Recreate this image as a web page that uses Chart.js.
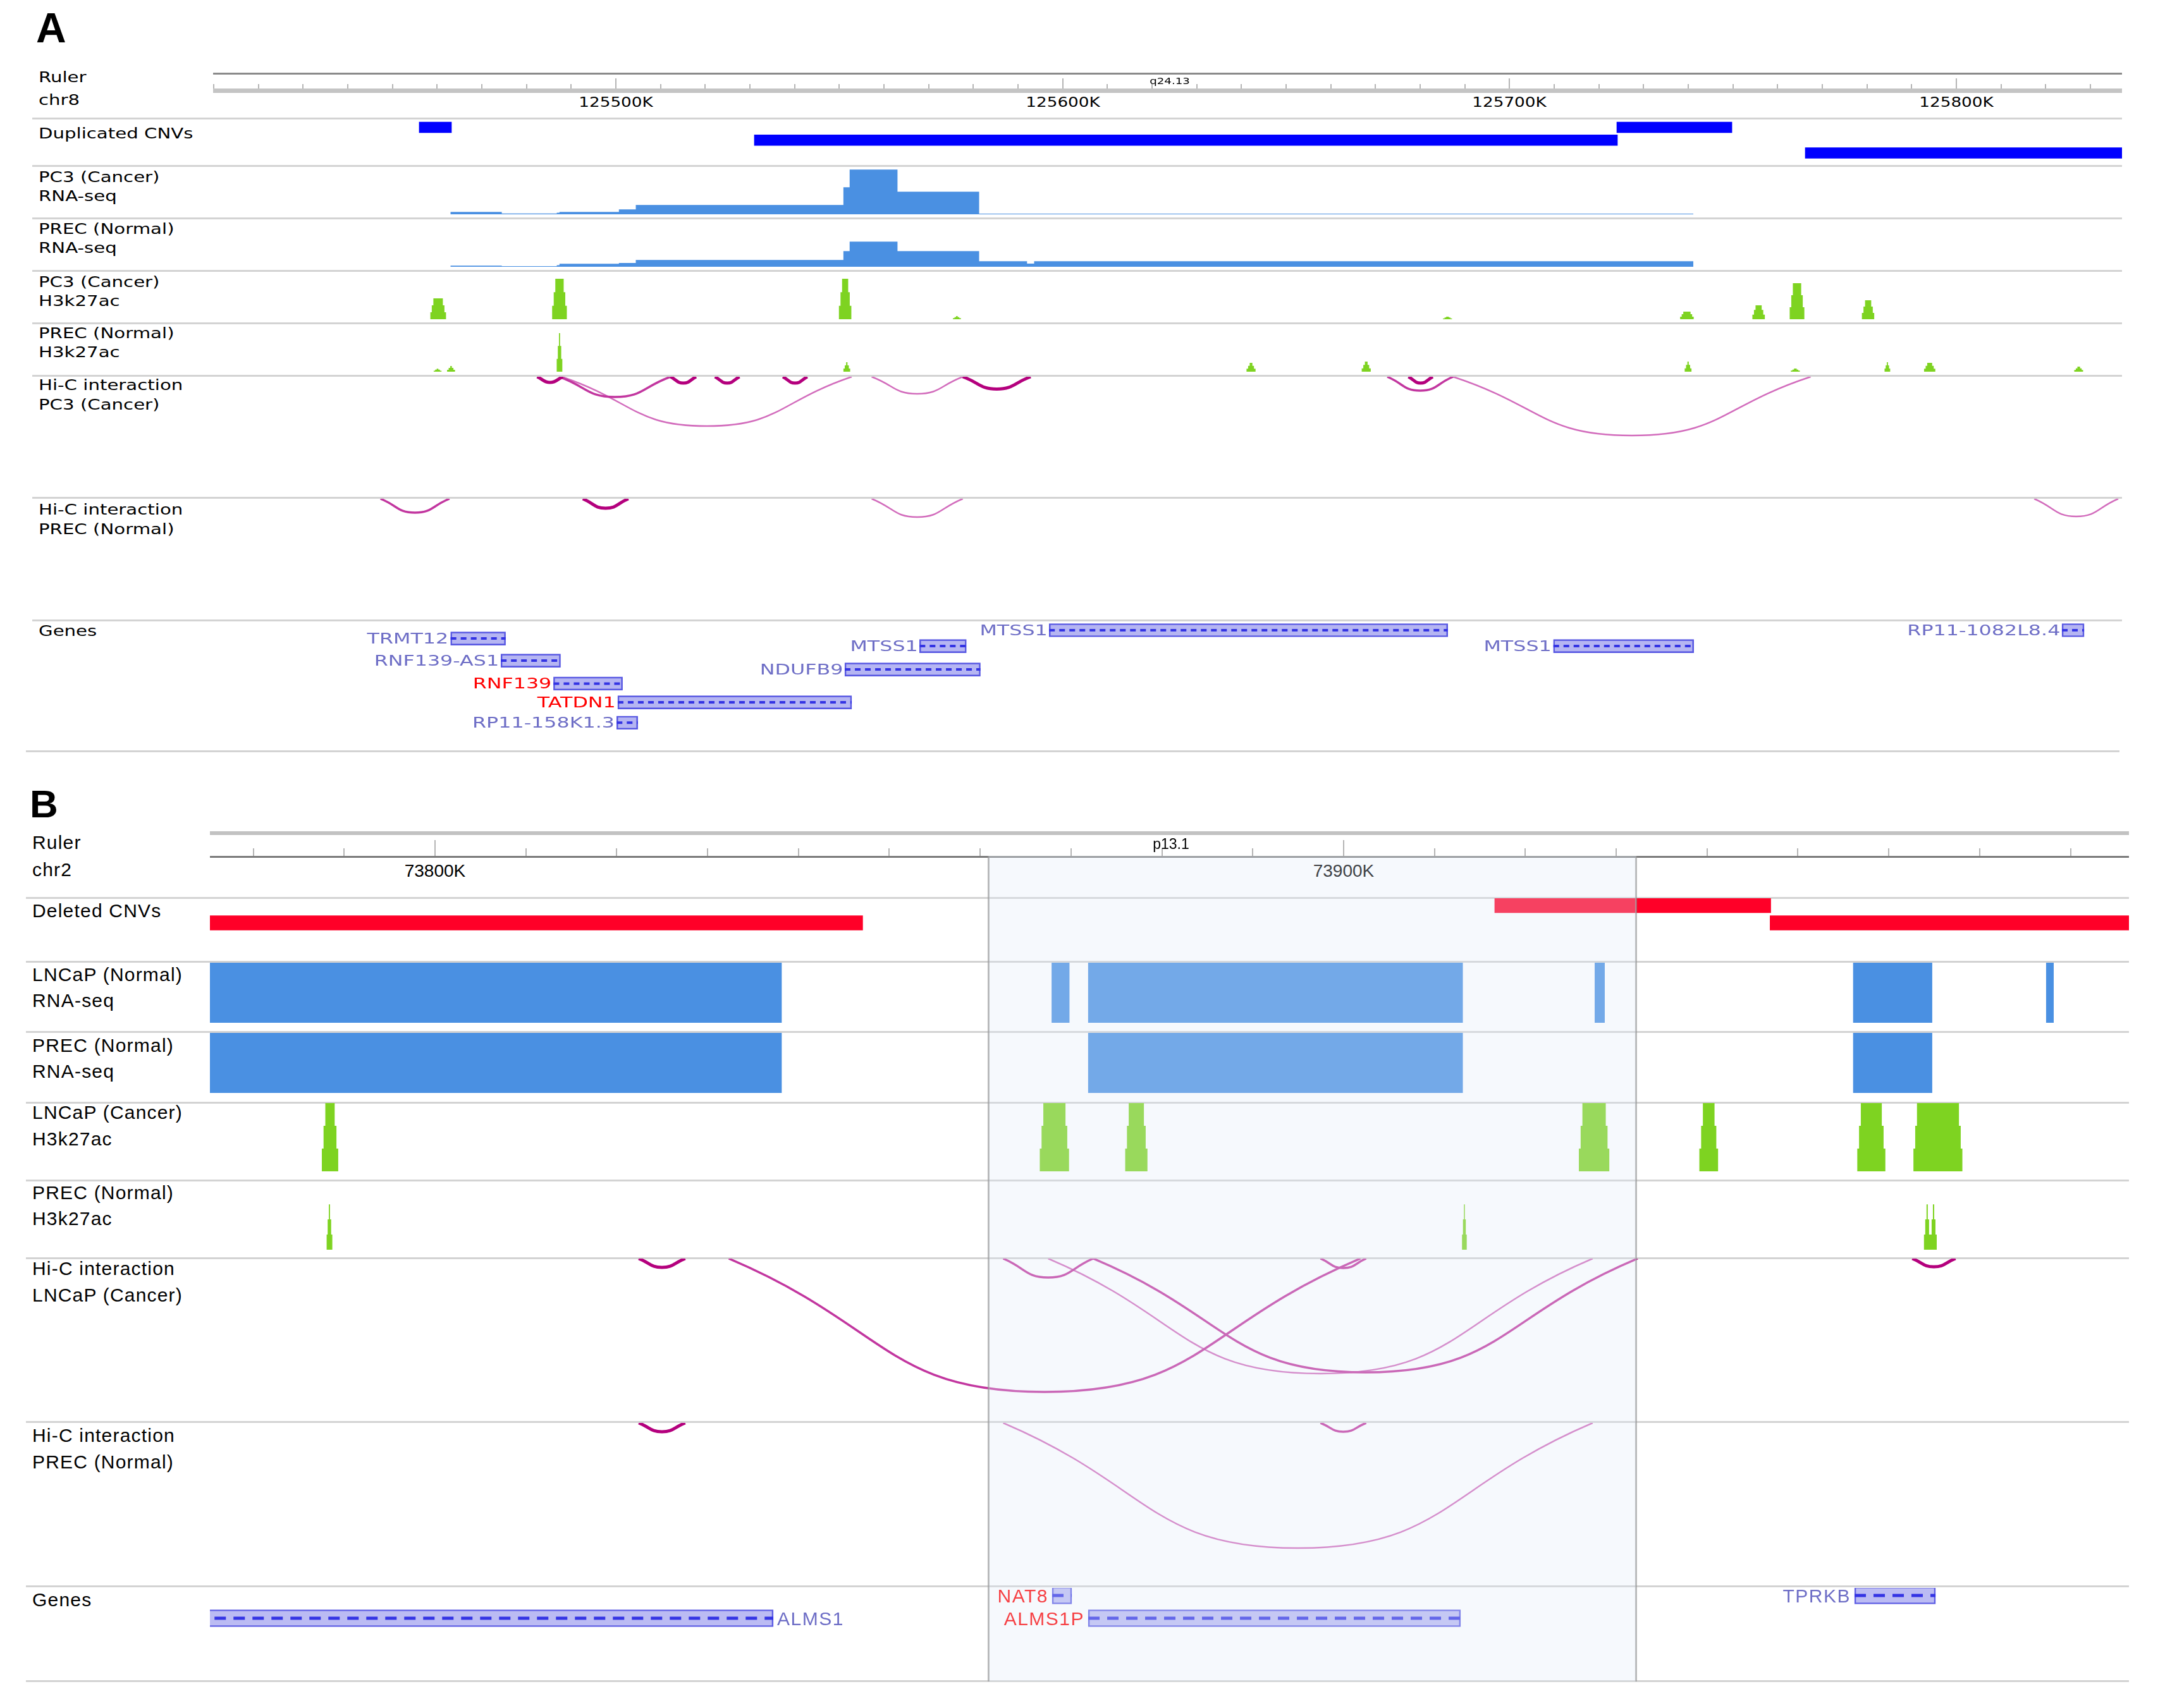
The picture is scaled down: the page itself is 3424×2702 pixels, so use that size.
<!DOCTYPE html>
<html>
<head>
<meta charset="utf-8">
<title>CNV / RNA-seq / H3K27ac / Hi-C tracks</title>
<script src="https://cdn.jsdelivr.net/npm/chart.js@4.4.1/dist/chart.umd.min.js"></script>
<style>
  html, body { margin:0; padding:0; background:#ffffff; }
  #fig { position:relative; width:3424px; height:2702px; background:#ffffff; overflow:hidden; }
  .cbox { position:absolute; }
  .cbox canvas { display:block; }
  .lbl { position:absolute; white-space:nowrap; color:#000; }
  .rule { position:absolute; }
</style>
</head>
<body>
<div id="fig"></div>
<script>
// =================== DATA (genomic positions in kb) ===================
const viewA = [125409.86, 125837.07];   // chr8 window shown in panel A
const viewB = [73775.23, 73986.43];     // chr2 window shown in panel B
const chromA = 'chr8', chromB = 'chr2';
const bandA = ['q24.13', 125624.0];
const bandB = ['p13.1', 73881.0];
const minorTickKb = 10, majorTickKb = 100;

const labelsA = [['Ruler', 'chr8'], ['Duplicated CNVs'], ['PC3 (Cancer)', 'RNA-seq'], ['PREC (Normal)', 'RNA-seq'],
  ['PC3 (Cancer)', 'H3k27ac'], ['PREC (Normal)', 'H3k27ac'], ['Hi-C interaction', 'PC3 (Cancer)'],
  ['Hi-C interaction', 'PREC (Normal)'], ['Genes']];
const labelsB = [['Ruler', 'chr2'], ['Deleted CNVs'], ['LNCaP (Normal)', 'RNA-seq'], ['PREC (Normal)', 'RNA-seq'],
  ['LNCaP (Cancer)', 'H3k27ac'], ['PREC (Normal)', 'H3k27ac'], ['Hi-C interaction', 'LNCaP (Cancer)'],
  ['Hi-C interaction', 'PREC (Normal)'], ['Genes']];

// CNVs: [start, end, lane]
const dupCNVs = [[125455.99, 125463.21, 0], [125530.99, 125724.15, 1], [125724.01, 125749.77, 0], [125766.18, 125837.07, 2]];
const delCNVs = [[73775.23, 73847.07, 1], [73916.63, 73947.01, 0], [73946.93, 73986.43, 1]];

// RNA-seq coverage: [start, end, value]
const rnaPC3 = [[125462.97, 125474.47, 3.7], [125474.47, 125486.78, 1.2], [125486.78, 125487.38, 2.5], [125487.38, 125500.68, 3.7],
  [125500.68, 125504.46, 7.7], [125504.46, 125550.92, 14.7], [125550.92, 125552.32, 42.7], [125552.32, 125563.03, 70.7],
  [125563.03, 125581.30, 35.7], [125581.30, 125741.13, 1.0]];
const rnaPrecA = [[125462.97, 125474.47, 1.7], [125474.47, 125486.78, 1.0], [125486.78, 125487.38, 2.5], [125487.38, 125500.68, 4.7],
  [125500.68, 125504.46, 6.0], [125504.46, 125550.92, 10.7], [125550.92, 125552.32, 24.7], [125552.32, 125563.03, 39.7],
  [125563.03, 125581.30, 24.7], [125581.30, 125592.02, 8.7], [125592.02, 125593.61, 5.0], [125593.61, 125741.13, 8.7]];
const rnaLNCaP = [[73775.23, 73838.16, 1], [73867.86, 73869.83, 1], [73871.88, 73913.12, 1], [73927.63, 73928.74, 1],
  [73956.07, 73964.78, 1], [73977.31, 73978.15, 1]];
const rnaPrecB = [[73775.23, 73838.16, 1], [73871.88, 73913.12, 1], [73956.07, 73964.78, 1]];

// H3K27ac peaks: [start, end, height]
const k27PC3 = [[125458.45, 125461.99, 33], [125485.74, 125489.03, 64], [125549.92, 125552.70, 64], [125575.44, 125577.21, 5],
  [125685.11, 125687.13, 4], [125738.18, 125741.22, 12], [125754.35, 125757.14, 22], [125762.70, 125765.98, 57],
  [125778.86, 125781.65, 30]];
const k27PrecA = [[125459.20, 125460.98, 4.7], [125462.23, 125464.00, 9], [125486.76, 125488.02, 61], [125550.93, 125552.44, 15],
  [125641.14, 125643.16, 14], [125666.92, 125668.94, 16], [125739.20, 125740.72, 16], [125762.95, 125764.97, 5],
  [125783.93, 125785.19, 15], [125792.77, 125795.29, 14], [125826.38, 125828.39, 8]];
const k27LNCaP = [[73787.54, 73789.35, 1], [73866.56, 73869.78, 1], [73875.96, 73878.41, 1], [73925.89, 73929.24, 1],
  [73939.15, 73941.21, 1], [73956.53, 73959.62, 1], [73962.71, 73968.11, 1]];
const k27PrecB = [[73788.06, 73788.70, 0.665], [73913.03, 73913.55, 0.665], [73963.87, 73964.57, 0.665], [73964.57, 73965.28, 0.665]];

// Hi-C interactions: [anchor1, anchor2, arc depth, strength 1..3]
const hicPC3 = [[125482.38, 125488.14, 9, 3], [125487.36, 125512.23, 32, 2], [125512.23, 125517.97, 10, 3],
  [125522.17, 125527.67, 10, 3], [125537.36, 125542.85, 10, 3], [125487.89, 125552.78, 78, 1],
  [125557.24, 125577.65, 27, 1], [125577.65, 125592.83, 19.5, 3], [125672.64, 125687.36, 22, 2],
  [125677.37, 125682.83, 10, 3], [125687.36, 125767.39, 93, 1]];
const hicPrecA = [[125447.32, 125462.76, 22, 2], [125492.60, 125502.80, 15, 3], [125557.24, 125577.65, 29, 1],
  [125817.41, 125836.23, 28, 1]];
const hicLNCaP = [[73822.42, 73827.54, 14, 3], [73832.33, 73901.84, 211, 2], [73862.53, 73872.44, 30, 2],
  [73867.48, 73927.41, 182, 1], [73872.44, 73932.36, 180, 2], [73897.45, 73902.48, 15, 2], [73962.58, 73967.34, 13, 3]];
const hicPrecB = [[73822.42, 73827.54, 14, 3], [73897.45, 73902.48, 14, 2], [73862.53, 73927.41, 198, 1]];

// Genes: [name, start, end, row, highlighted]
const genesA = [['MTSS1', 125596.97, 125686.18, 0, 0], ['RP11-1082L8.4', 125823.63, 125828.59, 0, 0],
  ['TRMT12', 125463.02, 125475.32, 0.57, 0], ['MTSS1', 125567.97, 125578.44, 1.09, 0],
  ['MTSS1', 125709.82, 125741.22, 1.09, 0], ['RNF139-AS1', 125474.27, 125487.62, 2.09, 0],
  ['NDUFB9', 125551.23, 125581.58, 2.7, 0], ['RNF139', 125486.05, 125501.50, 3.67, 1],
  ['TATDN1', 125500.42, 125552.78, 4.96, 1], ['RP11-158K1.3', 125500.18, 125504.90, 6.36, 0]];
const genesB = [['ALMS1', 73612.9, 73837.23, 1, 0], ['NAT8', 73867.92, 73870.08, 0, 1],
  ['ALMS1P', 73871.89, 73912.87, 1, 1], ['TPRKB', 73956.23, 73965.14, 0, 0]];

// highlighted region in panel B
const highlightB = [73860.93, 73932.18];

// =================== RENDERING ===================
const FIG = document.getElementById('fig');
const FIG_W = 3424;
const GA = { left: 337, width: 3019 };
const GB = { left: 332, width: 3035 };
const BLUE = '#4a90e2', GREEN = '#7ed321';
const ARC = { 3: { c: '#b4007d', w: 5 }, 2: { c: '#c2369f', w: 3.5 }, 1: { c: 'rgba(206,96,182,0.92)', w: 2.5 } };

function rule(x0, x1, y, h, color) {
  const d = document.createElement('div');
  d.className = 'rule';
  Object.assign(d.style, { left: x0 + 'px', top: y + 'px', width: (x1 - x0) + 'px', height: h + 'px', background: color });
  FIG.appendChild(d);
}

function txt(str, x, baseline, o) {
  const d = document.createElement('div');
  d.className = 'lbl';
  d.textContent = str;
  const s = d.style, size = o.size, sx = o.sx || 1;
  s.fontFamily = o.font; s.fontSize = size + 'px'; s.lineHeight = size + 'px';
  s.top = (baseline - 0.846 * size) + 'px';
  s.color = o.color || '#000';
  if (o.weight) s.fontWeight = o.weight;
  if (o.ls) s.letterSpacing = o.ls + 'px';
  if (o.align === 'right') {
    s.right = (FIG_W - x) + 'px'; s.transformOrigin = '100% 50%'; s.transform = 'scaleX(' + sx + ')';
  } else if (o.align === 'center') {
    s.left = x + 'px'; s.transformOrigin = '50% 50%'; s.transform = 'translateX(-50%) scaleX(' + sx + ')';
  } else {
    s.left = x + 'px'; s.transformOrigin = '0 50%'; s.transform = 'scaleX(' + sx + ')';
  }
  FIG.appendChild(d);
  return d;
}

function makeChart(left, top, width, height, config, padBottom) {
  const box = document.createElement('div');
  box.className = 'cbox';
  Object.assign(box.style, { left: left + 'px', top: top + 'px', width: width + 'px', height: height + 'px' });
  const cv = document.createElement('canvas');
  cv.width = width; cv.height = height;
  cv.style.width = width + 'px'; cv.style.height = height + 'px';
  box.appendChild(cv);
  FIG.appendChild(box);
  const base = { responsive: false, animation: false, devicePixelRatio: 1, events: [],
    layout: { padding: { top: 0, left: 0, right: 0, bottom: padBottom || 0 }, autoPadding: false },
    plugins: { legend: { display: false }, tooltip: { enabled: false } } };
  config.options = Object.assign(base, config.options || {});
  return new Chart(cv.getContext('2d'), config);
}

const xAx = (view) => ({ type: 'linear', min: view[0], max: view[1], display: false, offset: false });
const yAx = (min, max, reverse) => ({ type: 'linear', min: min, max: max, reverse: !!reverse, display: false, offset: false });
const isMajor = (v) => Math.abs(v / majorTickKb - Math.round(v / majorTickKb)) < 1e-6;

function stepPoints(segs) {
  const pts = [];
  segs.forEach((s, i) => {
    pts.push({ x: s[0], y: s[2] });
    const n = segs[i + 1];
    if (!n || Math.abs(n[0] - s[1]) > 1e-9) pts.push({ x: s[1], y: 0 });
  });
  return pts;
}
function taper(peaks, inset) {
  const out = [];
  peaks.forEach(([s, e, h]) => {
    const d = Math.min(inset, (e - s) / 5);
    out.push([s, s + d, h / 3], [s + d, s + 2 * d, 2 * h / 3], [s + 2 * d, e - 2 * d, h],
      [e - 2 * d, e - d, 2 * h / 3], [e - d, e, h / 3]);
  });
  return out;
}

function signalChart(G, view, top, h, ymax, pts, color) {
  return makeChart(G.left, top, G.width, h, {
    type: 'line',
    data: { datasets: [{ data: pts, stepped: true, fill: 'origin', backgroundColor: color, borderColor: color, borderWidth: 0, pointRadius: 0 }] },
    options: { scales: { x: xAx(view), y: yAx(0, ymax, false) } }
  });
}

function laneChart(G, view, top, h, lanePx, lane0Px, items, color, thick) {
  const ymin = (top - lane0Px) / lanePx, ymax = (top + h - lane0Px) / lanePx;
  return makeChart(G.left, top, G.width, h, {
    type: 'bar',
    data: { datasets: [{ indexAxis: 'y', data: items.map(b => ({ x: [b[0], b[1]], y: b[2] })), backgroundColor: color, borderWidth: 0, barThickness: thick }] },
    options: { scales: { x: xAx(view), y: yAx(ymin, ymax, true) } }
  });
}

function arcChart(G, view, top, h, arcs) {
  const datasets = arcs.map(a => ({
    data: [{ x: a[0], y: 0 }, { x: (a[0] + a[1]) / 2, y: a[2] }, { x: a[1], y: 0 }],
    borderColor: ARC[a[3]].c, borderWidth: ARC[a[3]].w, tension: 0.5, pointRadius: 0, fill: false, order: 4 - a[3]
  }));
  return makeChart(G.left, top, G.width, h, { type: 'line', data: { datasets }, options: { scales: { x: xAx(view), y: yAx(0, h, true) } } });
}

function geneChart(G, view, top, h, rowPx, row0Px, genes, st) {
  const ymin = (top - row0Px) / rowPx, ymax = (top + h - row0Px) / rowPx;
  const line = [];
  genes.forEach(g => line.push({ x: g[1], y: g[3] }, { x: g[2], y: g[3] }, { x: g[2], y: null }));
  const ch = makeChart(G.left, top, G.width, h, {
    type: 'bar',
    data: { datasets: [
      { type: 'line', indexAxis: 'x', data: line, borderColor: st.lineColor, borderWidth: st.lineW, borderDash: st.dash, pointRadius: 0, fill: false, order: 0 },
      { type: 'bar', indexAxis: 'y', data: genes.map(g => ({ x: [g[1], g[2]], y: g[3] })), backgroundColor: st.fill,
        borderColor: st.stroke, borderWidth: 2, borderSkipped: false, barThickness: st.thick, order: 1 }
    ] },
    options: { scales: { x: xAx(view), y: yAx(ymin, ymax, true) } }
  });
  genes.forEach(g => {
    const yc = row0Px + g[3] * rowPx;
    const color = g[4] ? '#ff0000' : st.labelColor;
    const o = Object.assign({}, st.labelStyle, { color: color });
    if (g[1] < view[0]) {
      txt(g[0], ch.scales.x.getPixelForValue(g[2]) + G.left + st.gap, yc + 0.365 * o.size, o);
    } else {
      txt(g[0], ch.scales.x.getPixelForValue(g[1]) + G.left - st.gap, yc + 0.365 * o.size, Object.assign(o, { align: 'right' }));
    }
  });
  return ch;
}

// Ruler: major ticks + baseline band (chart 1), minor ticks (chart 2), labels placed on the axis' major ticks
function rulerCharts(G, view, r) {
  const padB = r.baseW / 2 + 1;
  const H = Math.round(r.baseY - r.majorTop + padB);
  const major = makeChart(G.left, r.majorTop, G.width, H, {
    type: 'line', data: { datasets: [] },
    options: { scales: {
      x: { type: 'linear', min: view[0], max: view[1], offset: false, position: 'bottom',
        grid: { display: true, drawOnChartArea: true, drawTicks: false, lineWidth: 2,
          color: c => (c.tick && isMajor(c.tick.value)) ? r.tickColor : 'rgba(0,0,0,0)' },
        border: { display: true, width: r.baseW, color: r.baseColor },
        ticks: { stepSize: minorTickKb, autoSkip: false, includeBounds: false, display: false } },
      y: { display: false, min: 0, max: 1 } } }
  }, H - (r.baseY - r.majorTop));
  makeChart(G.left, r.minorTop, G.width, r.minorH, {
    type: 'line', data: { datasets: [] },
    options: { scales: {
      x: { type: 'linear', min: view[0], max: view[1], offset: false, position: 'bottom',
        grid: { display: true, drawOnChartArea: true, drawTicks: false, lineWidth: 2, color: r.tickColor },
        border: { display: false }, ticks: { stepSize: minorTickKb, includeBounds: false, autoSkip: false, display: false } },
      y: { display: false, min: 0, max: 1 } } }
  });
  const sc = major.scales.x;
  sc.ticks.filter(t => isMajor(t.value)).forEach(t => {
    txt(Math.round(t.value) + 'K', sc.getPixelForValue(t.value) + G.left, r.labelBase, r.label);
  });
  return major;
}

// ---------- separators ----------
[187.3, 262, 345, 428, 511, 594.3, 787.3, 981].forEach(y => rule(51, 3356, y - 1.5, 3, '#d3d3d3'));
rule(41, 3352, 1186.5, 3, '#d3d3d3');
[1420.7, 1521.7, 1632.5, 1744, 1867, 1990, 2249.5, 2509.7, 2659.3].forEach(y => rule(41, 3367, y - 1.5, 3, '#d3d3d3'));

// ---------- panel letters & track labels ----------
txt('A', 57, 67, { font: 'Liberation Sans', size: 66, weight: 'bold' });
txt('B', 47, 1293, { font: 'Liberation Sans', size: 62, weight: 'bold' });
const STA = { font: 'DejaVu Sans', size: 23, sx: 1.27 };
const STB = { font: 'Liberation Sans', size: 30, ls: 1.2 };
const baseA = [[130.5, 166.5], [219.5], [288.5, 318.5], [370.5, 400.5], [454, 484.5], [535, 565], [617.5, 648], [814, 845], [1006]];
const baseB = [[1343, 1386.5], [1451.5], [1552.5, 1593.5], [1664.5, 1705.5], [1770.5, 1812], [1897, 1938.5], [2017.5, 2059], [2281.5, 2323], [2541.5]];
labelsA.forEach((ls, i) => ls.forEach((t, j) => txt(t, 61, baseA[i][j], STA)));
labelsB.forEach((ls, i) => ls.forEach((t, j) => txt(t, 51, baseB[i][j], STB)));

// ---------- PANEL A ----------
rule(337, 3356, 115, 3, '#8a8a8a');
const rulerA = rulerCharts(GA, viewA, { majorTop: 124, baseY: 143.5, minorTop: 133, minorH: 7,
  baseW: 7, baseColor: '#c4c4c4', tickColor: '#b5b5b5',
  labelBase: 170, label: { font: 'DejaVu Sans', size: 21, sx: 1.25, align: 'center' } });
txt(bandA[0], rulerA.scales.x.getPixelForValue(bandA[1]) + GA.left, 133, { font: 'DejaVu Sans', size: 14, sx: 1.3, align: 'center' });

laneChart(GA, viewA, 190, 63, 20.25, 201.5, dupCNVs, '#0000ff', 17);
signalChart(GA, viewA, 264, 75, 75, stepPoints(rnaPC3), BLUE);
signalChart(GA, viewA, 347, 75, 75, stepPoints(rnaPrecA), BLUE);
const insetA = 2.5 * (viewA[1] - viewA[0]) / GA.width;
signalChart(GA, viewA, 430, 75, 75, stepPoints(taper(k27PC3, insetA)), GREEN);
signalChart(GA, viewA, 513, 75, 75, stepPoints(taper(k27PrecA, insetA)), GREEN);
arcChart(GA, viewA, 596, 190, hicPC3);
arcChart(GA, viewA, 789, 190, hicPrecA);
geneChart(GA, viewA, 983, 203, 23, 997, genesA, {
  thick: 21, fill: 'rgba(120,120,232,0.55)', stroke: '#5656e2', lineColor: '#3434e4', lineW: 4, dash: [9, 7],
  labelColor: '#6e6ec6', gap: 3, labelStyle: { font: 'DejaVu Sans', size: 23, sx: 1.38 } });

// ---------- PANEL B ----------
rule(332, 3367, 1315, 6, '#c2c2c2');
const rulerB = rulerCharts(GB, viewB, { majorTop: 1329, baseY: 1355.5, minorTop: 1342, minorH: 12,
  baseW: 3, baseColor: '#7a7a7a', tickColor: '#b5b5b5',
  labelBase: 1388, label: { font: 'Liberation Sans', size: 28, align: 'center' } });
txt(bandB[0], rulerB.scales.x.getPixelForValue(bandB[1]) + GB.left, 1343.5, { font: 'Liberation Sans', size: 23, align: 'center' });

laneChart(GB, viewB, 1421, 52, 27.5, 1432.5, delCNVs, '#ff0028', 23);
signalChart(GB, viewB, 1523, 95, 1, stepPoints(rnaLNCaP), BLUE);
signalChart(GB, viewB, 1634, 95, 1, stepPoints(rnaPrecB), BLUE);
const insetB = 2.8 * (viewB[1] - viewB[0]) / GB.width;
signalChart(GB, viewB, 1745, 108, 1, stepPoints(taper(k27LNCaP, insetB)), GREEN);
signalChart(GB, viewB, 1869, 108, 1, stepPoints(taper(k27PrecB, insetB)), GREEN);
arcChart(GB, viewB, 1991, 258, hicLNCaP);
arcChart(GB, viewB, 2251, 258, hicPrecB);
geneChart(GB, viewB, 2512, 146, 36, 2524, genesB, {
  thick: 27, fill: 'rgba(120,120,232,0.5)', stroke: '#5c5ce4', lineColor: '#3434e4', lineW: 5, dash: [18, 12],
  labelColor: '#6e6ec6', gap: 6, labelStyle: { font: 'Liberation Sans', size: 30, ls: 1.5 } });

// highlighted region overlay (panel B)
makeChart(GB.left, 1354, GB.width, 1306, {
  type: 'line',
  data: { datasets: [
    { data: [{ x: highlightB[0], y: 1 }, { x: highlightB[1], y: 1 }], fill: 'origin', backgroundColor: 'rgba(222,234,248,0.28)', borderWidth: 0, pointRadius: 0 },
    { data: [{ x: highlightB[0], y: 0 }, { x: highlightB[0], y: 1 }, { x: highlightB[1], y: 1 }, { x: highlightB[1], y: 0 }],
      borderColor: 'rgba(150,150,150,0.7)', borderWidth: 3, pointRadius: 0, fill: false }
  ] },
  options: { scales: { x: xAx(viewB), y: yAx(0, 1, false) } }
});
</script>
</body>
</html>
